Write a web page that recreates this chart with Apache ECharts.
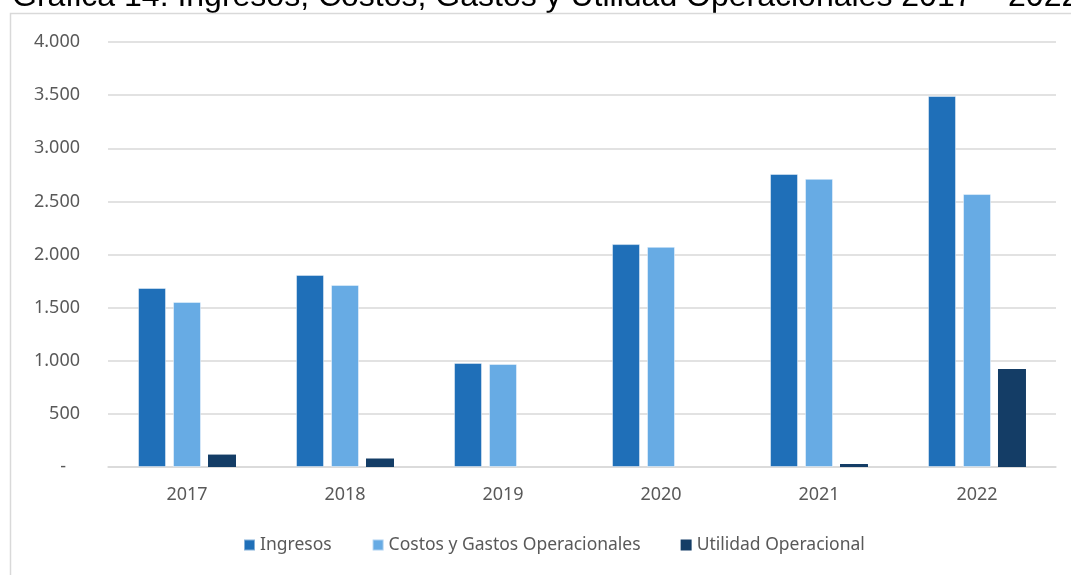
<!DOCTYPE html>
<html>
<head>
<meta charset="utf-8">
<script src="https://cdn.jsdelivr.net/npm/echarts@6/dist/echarts.min.js"></script>
<style>
  html, body { margin: 0; padding: 0; background: #fff; }
  #chart { width: 1071px; height: 575px; }
</style>
</head>
<body>
<div id="chart"></div>
<script>
// datos
var years = ['2017', '2018', '2019', '2020', '2021', '2022'];
var ingresos = [1685, 1808, 980, 2098, 2758, 3492];
var costos = [1554, 1714, 970, 2072, 2712, 2569];
var utilidad = [117, 80, 0, 0, 28, 923];
var yTicks = [0, 500, 1000, 1500, 2000, 2500, 3000, 3500, 4000];

var font = "'Noto Sans', sans-serif";

var myChart = echarts.init(document.getElementById('chart'));

myChart.setOption({
  animation: false,
  textStyle: { fontFamily: font },
  graphic: [
    {
      type: 'text',
      x: 12,
      y: -2.5,
      style: {
        text: 'Gráfica 14. Ingresos, Costos, Gastos y Utilidad Operacionales 2017 – 2022',
        fontFamily: "'Liberation Sans', Arial, sans-serif",
        fontSize: 32,
        fill: '#000',
        verticalAlign: 'middle'
      }
    },
    {
      type: 'rect',
      shape: { x: 10.5, y: 13.5, width: 1080, height: 580 },
      style: { fill: 'none', stroke: '#d9d9d9', lineWidth: 1.5 },
      silent: true
    }
  ],
  legend: {
    bottom: 16,
    left: 238,
    itemWidth: 11,
    itemHeight: 11,
    itemGap: 40,
    icon: 'rect',
    textStyle: { fontSize: 17.5, color: '#595959', fontFamily: font },
    data: ['Ingresos', 'Costos y Gastos Operacionales', 'Utilidad Operacional']
  },
  grid: { left: 108, right: 15, top: 42, bottom: 108, containLabel: false },
  xAxis: {
    type: 'category',
    data: years,
    axisLine: { lineStyle: { color: '#d9d9d9', width: 1.5 } },
    axisTick: { show: false },
    axisLabel: { color: '#595959', fontSize: 18, margin: 19, fontFamily: font }
  },
  yAxis: {
    type: 'value',
    min: 0,
    max: 4000,
    interval: 500,
    axisLine: { show: false },
    axisTick: { show: false },
    splitLine: { lineStyle: { color: '#d9d9d9', width: 1.5 } },
    axisLabel: {
      color: '#595959',
      fontSize: 18,
      margin: 28,
      fontFamily: font,
      formatter: function (v) {
        if (yTicks.indexOf(v) < 0) return '';
        if (v === 0) return '-   ';
        return v.toLocaleString('de-DE');
      }
    }
  },
  series: [
    {
      name: 'Ingresos',
      type: 'bar',
      data: ingresos,
      barGap: '25%',
      barCategoryGap: '38%',
      itemStyle: { color: '#1f6fb8', borderColor: 'rgba(255,255,255,0.45)', borderWidth: 1 }
    },
    {
      name: 'Costos y Gastos Operacionales',
      type: 'bar',
      data: costos,
      barGap: '25%',
      barCategoryGap: '38%',
      itemStyle: { color: '#67abe4', borderColor: 'rgba(255,255,255,0.45)', borderWidth: 1 }
    },
    {
      name: 'Utilidad Operacional',
      type: 'bar',
      data: utilidad,
      barGap: '25%',
      barCategoryGap: '38%',
      itemStyle: { color: '#143d66', borderWidth: 0 }
    }
  ]
});
</script>
</body>
</html>
